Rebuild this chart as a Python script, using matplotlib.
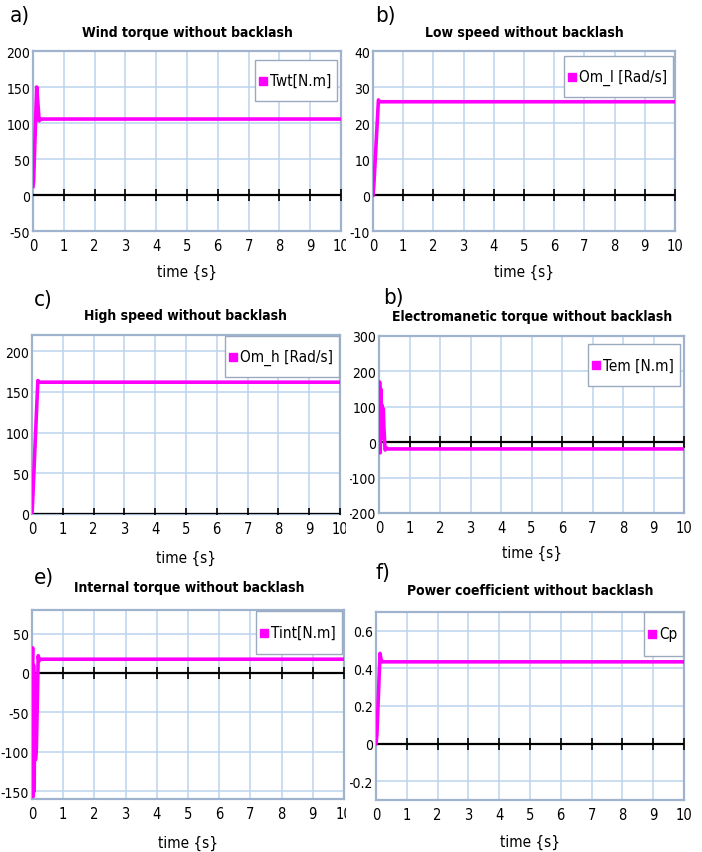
import matplotlib
matplotlib.use('Agg')
import matplotlib.pyplot as plt
from matplotlib.font_manager import fontManager
from matplotlib.patches import Rectangle
from matplotlib.lines import Line2D
from matplotlib.transforms import Bbox, TransformedBbox

# font: narrow sans if available
names = set(f.name for f in fontManager.ttflist)
if 'Liberation Sans Narrow' in names:
    plt.rcParams['font.family'] = ['Liberation Sans Narrow', 'DejaVu Sans']
else:
    plt.rcParams['font.family'] = ['DejaVu Sans']
    plt.rcParams['font.stretch'] = 'condensed'
plt.rcParams['axes.unicode_minus'] = False

# data
t_wind = [0, 0.02, 0.12, 0.2, 0.23, 10]
wind_torque = [12, 20, 150, 103, 105.5, 105.5]

t_low = [0, 0.03, 0.18, 0.22, 10]
low_speed = [0, 3, 26.4, 25.9, 25.9]

t_high = [0, 0.02, 0.19, 0.24, 10]
high_speed = [0, 15, 164, 162, 162]

t_em = [0, 0.02, 0.04, 0.06, 0.08, 0.1, 0.12, 0.14, 0.16, 0.2, 0.24, 0.3, 10]
em_torque = [0, 170, -30, 150, 10, 105, 20, 95, 40, -22, -16, -19, -19]

t_int = [0, 0.02, 0.035, 0.05, 0.07, 0.09, 0.11, 0.14, 0.2, 0.22, 0.26, 10]
int_torque = [0, 32, -157, 10, -150, -5, -110, -95, 22, 15, 17.5, 17.5]

t_cp = [0, 0.03, 0.13, 0.16, 0.2, 10]
cp = [0, 0.05, 0.48, 0.45, 0.435, 0.435]

x_ticks = list(range(0, 11))

panels = [
    # label, title, t, y, legend text, ylim, yticks, yticklabels, axes px (l, r, top, bottom)
    ('a)', 'Wind torque without backlash', t_wind, wind_torque, 'Twt[N.m]',
     (-50, 200), [-50, 0, 50, 100, 150, 200], None, (33, 341, 52, 232)),
    ('b)', 'Low speed without backlash', t_low, low_speed, 'Om_l [Rad/s]',
     (-10, 40), [-10, 0, 10, 20, 30, 40], None, (373, 675, 52, 232)),
    ('c)', 'High speed without backlash', t_high, high_speed, 'Om_h [Rad/s]',
     (0, 220), [0, 50, 100, 150, 200], None, (32, 340, 336, 515)),
    ('b)', 'Electromanetic torque without backlash', t_em, em_torque, 'Tem [N.m]',
     (-200, 300), [-200, -100, 0, 100, 200, 300], None, (379, 684, 337, 514)),
    ('e)', 'Internal torque without backlash', t_int, int_torque, 'Tint[N.m]',
     (-160, 80), [-150, -100, -50, 0, 50], None, (32, 344, 611, 800)),
    ('f)', 'Power coefficient without backlash', t_cp, cp, 'Cp',
     (-0.3, 0.7), [-0.2, 0, 0.2, 0.4, 0.6], ['-0.2', '0', '0.2', '0.4', '0.6'], (376, 684, 613, 801)),
]

# panel label positions, title centres, xlabel rows, legend boxes (right, top, bottom) in px
label_pos = [(10, 16), (375, 16), (34, 300), (383, 298), (34, 578), (375, 573)]
title_pos = [(187, 33), (524, 33), (186, 316), (532, 317), (189, 588), (530, 591)]
xlabel_y = [272, 272, 558, 553, 843, 842]
legend_box = [(337, 61, 102), (673, 57, 98), (339, 337, 378), (680, 345, 387), (342, 612, 655), (683, 613, 657)]

W, H = 702, 853
fig = plt.figure(figsize=(W / 100, H / 100), dpi=100)
fig.patch.set_facecolor('white')
renderer = fig.canvas.get_renderer()


def fx(px):
    return px / W


def fy(py):
    return 1 - py / H


grid_col = '#bcd3ec'
edge_col = '#9fb3cf'
line_col = '#ff00ff'

for i, (lab, title, t, y, leg, ylim, yt, ytl, px) in enumerate(panels):
    l, r, top, bot = px
    ax = fig.add_axes([fx(l), fy(bot), (r - l) / W, (bot - top) / H])
    ax.plot(t, y, color=line_col, lw=2.6, zorder=4)
    ax.axhline(0, color='black', lw=1.6, zorder=3)
    ax.plot(x_ticks[1:], [0] * 10, ls='none', marker='|', ms=8, mew=1.2, color='black', zorder=3)
    ax.set_xlim(0, 10)
    ax.set_ylim(*ylim)
    ax.set_xticks(x_ticks)
    ax.set_yticks(yt)
    if ytl is not None:
        ax.set_yticklabels(ytl)
    ax.grid(True, color=grid_col, lw=1.1)
    ax.set_axisbelow(True)
    for s in ax.spines.values():
        s.set_color(edge_col)
        s.set_linewidth(1.6)
    ax.tick_params(axis='y', length=0, labelsize=10, pad=2)
    ax.tick_params(axis='x', length=0, labelsize=10.5, pad=5)

    # legend box: square marker + label, anchored at the right like the reference
    bx1, by0, by1 = legend_box[i]
    ym = (by0 + by1) / 2
    lt = fig.text(fx(bx1 - 6), fy(ym), leg, fontsize=11, ha='right', va='center', zorder=11)
    ext = lt.get_window_extent(renderer)
    tl = ext.x0
    fig.add_artist(Line2D([fx(tl - 7)], [fy(ym)], marker='s', ms=5.5, color=line_col,
                          ls='none', transform=fig.transFigure, zorder=11))
    bx0 = tl - 15
    fig.add_artist(Rectangle((fx(bx0), fy(by1)), (bx1 - bx0) / W, (by1 - by0) / H,
                             transform=fig.transFigure, facecolor='white',
                             edgecolor='#9aa9bd', lw=1.0, zorder=10))

    col = i % 2
    tx, ty = title_pos[i]
    fig.text(fx(tx), fy(ty), title, fontsize=10, fontweight='bold', ha='center', va='center')
    fig.text(fx((l + r) / 2), fy(xlabel_y[i]), 'time {s}', fontsize=11, ha='center', va='center')
    lx, ly = label_pos[i]
    fig.text(fx(lx), fy(ly), lab, fontsize=16, va='center', ha='left')

    # clip tick labels to the panel crop like the screenshot
    x0 = 0 if col == 0 else 350
    x1 = 346 if col == 0 else W
    cb = TransformedBbox(Bbox.from_extents(fx(x0), 0, fx(x1), 1), fig.transFigure)
    for tlab in ax.get_xticklabels() + ax.get_yticklabels():
        tlab.set_clip_on(True)
        tlab.set_clip_box(cb)

fig.savefig('out.png', dpi=100, facecolor='white')
